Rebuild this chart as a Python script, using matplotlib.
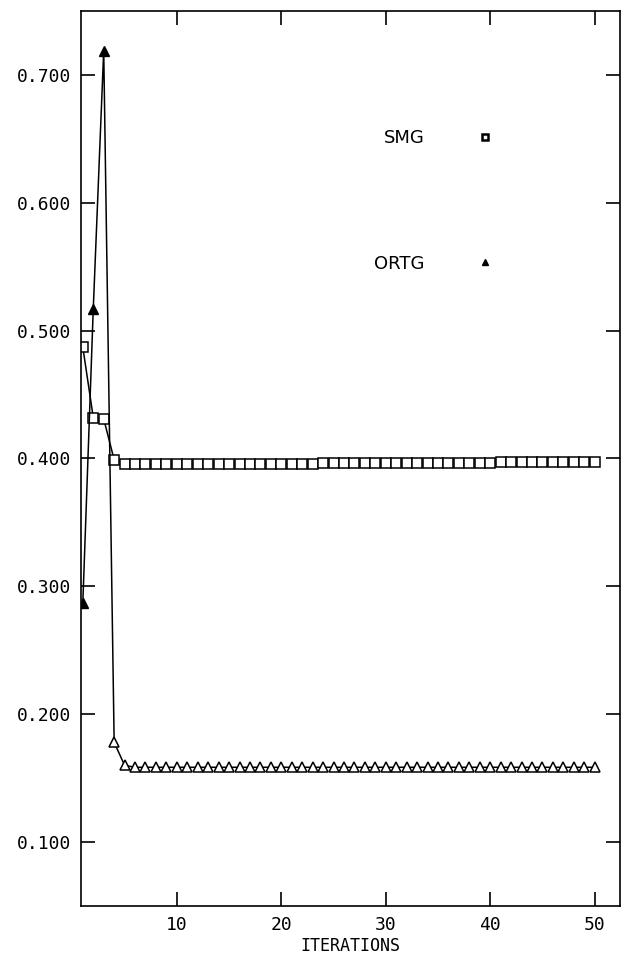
import numpy as np
import matplotlib
matplotlib.use("Agg")
import matplotlib.pyplot as plt

# iteration numbers
iterations = np.arange(1, 51)

# SMG values
smg_start = [0.487, 0.432, 0.431, 0.399, 0.396]
smg_tail = [0.3955, 0.3955, 0.3955, 0.3956, 0.3956, 0.3956, 0.3957, 0.3957, 0.3957,
            0.3958, 0.3958, 0.3958, 0.3959, 0.3959, 0.3959, 0.3960, 0.3960, 0.3960,
            0.3961, 0.3961, 0.3962, 0.3962, 0.3962, 0.3963, 0.3963, 0.3964, 0.3964,
            0.3965, 0.3965, 0.3966, 0.3966, 0.3967, 0.3967, 0.3968, 0.3968, 0.3969,
            0.3969, 0.3970, 0.3970, 0.3971, 0.3971, 0.3972, 0.3972, 0.3973, 0.3973]
smg = smg_start + smg_tail

# ORTG values
ortg_start = [0.287, 0.517, 0.719, 0.178, 0.160]
ortg_tail = [0.1585] * 45
ortg = ortg_start + ortg_tail

yticks = [0.1, 0.2, 0.3, 0.4, 0.5, 0.6, 0.7]
ytick_labels = ["0.100", "0.200", "0.300", "0.400", "0.500", "0.600", "0.700"]
xticks = [10, 20, 30, 40, 50]

fig = plt.figure(figsize=(6.21, 9.55), dpi=100)
ax = fig.add_axes([0.130, 0.0513, 0.868, 0.9372])

# SMG curve with open squares
ax.plot(iterations, smg, color="black", linewidth=1.1, marker="s", markersize=6.5,
        markerfacecolor="white", markeredgecolor="black", markeredgewidth=1.1)

# ORTG curve: line plus triangles (first few filled)
ax.plot(iterations, ortg, color="black", linewidth=1.1)
ax.plot(iterations[:3], ortg[:3], linestyle="none", marker="^", markersize=7,
        color="black")
ax.plot(iterations[3:], ortg[3:], linestyle="none", marker="^", markersize=6.5,
        markerfacecolor="white", markeredgecolor="black", markeredgewidth=1.1)

# hand made legend
ax.text(31.8, 0.651, "SMG", ha="center", va="center", fontsize=13)
ax.plot([39.5], [0.6515], marker="s", markersize=5, markerfacecolor="white",
        markeredgecolor="black", markeredgewidth=1.8, linestyle="none")
ax.text(31.3, 0.552, "ORTG", ha="center", va="center", fontsize=13)
ax.plot([39.5], [0.554], marker="^", markersize=5, color="black", linestyle="none")

ax.set_xlim(0.8, 52.4)
ax.set_ylim(0.05, 0.75)
ax.set_xticks(xticks)
ax.set_yticks(yticks)
ax.set_yticklabels(ytick_labels)
ax.tick_params(direction="in", length=10, width=1.2, top=True, right=True,
               labelsize=13, pad=7)
for lab in ax.get_xticklabels() + ax.get_yticklabels():
    lab.set_family("DejaVu Sans Mono")
for s in ax.spines.values():
    s.set_linewidth(1.2)
ax.set_xlabel("ITERATIONS", fontsize=12, family="DejaVu Sans Mono", labelpad=2)

fig.savefig("out.png", dpi=100)
